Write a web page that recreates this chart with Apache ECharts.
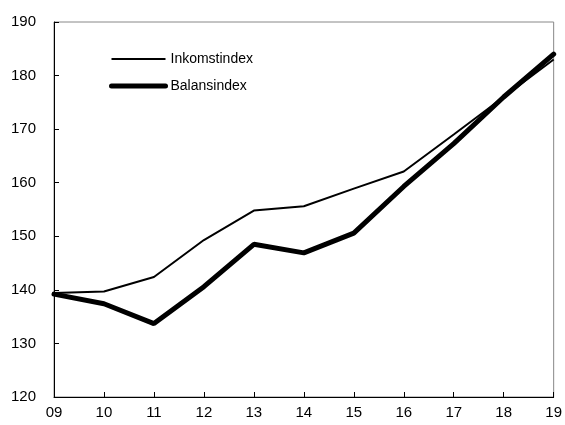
<!DOCTYPE html>
<html><head><meta charset="utf-8">
<script src="https://cdn.jsdelivr.net/npm/echarts@6/dist/echarts.min.js"></script>
<style>html,body{margin:0;padding:0;background:#fff}#c{width:565px;height:425px}</style>
</head><body><div id="c"></div>
<script>
const categories = ['09','10','11','12','13','14','15','16','17','18','19'];
const inkomstindex = [139.4, 139.7, 142.4, 149.3, 154.8, 155.6, 158.9, 162.1, 169.0, 176.0, 183.0];
const balansindex = [139.2, 137.4, 133.7, 140.6, 148.5, 146.9, 150.6, 159.3, 167.3, 176.0, 184.0];
const seriesNames = ['Inkomstindex', 'Balansindex'];
const FONT = '"Liberation Sans", Arial, sans-serif';

const chart = echarts.init(document.getElementById('c'), null, {renderer: 'canvas'});
chart.setOption({
  animation: false,
  backgroundColor: '#fff',
  grid: {left: 54, top: 22, right: 10, bottom: 28, show: true, borderColor: '#888', borderWidth: 1, containLabel: false},
  legend: {
    orient: 'vertical', left: 104, top: 47, itemWidth: 54, itemHeight: 14, itemGap: 13,
    itemStyle: {opacity: 0},
    textStyle: {fontFamily: FONT, fontSize: 14, color: '#000'},
    data: [
      {name: seriesNames[0], lineStyle: {width: 2, color: '#000'}},
      {name: seriesNames[1], lineStyle: {width: 5, color: '#000', cap: 'round'}}
    ]
  },
  xAxis: {
    type: 'category', data: categories, boundaryGap: false,
    axisLine: {onZero: false, lineStyle: {color: '#000', width: 1}},
    axisTick: {inside: true, length: 5, lineStyle: {color: '#000'}},
    axisLabel: {fontFamily: FONT, fontSize: 15, color: '#000', margin: 8},
    splitLine: {show: false}
  },
  yAxis: {
    type: 'value', min: 120, max: 190, interval: 10,
    axisLine: {show: true, lineStyle: {color: '#000', width: 1}},
    axisTick: {show: true, inside: true, length: 5, lineStyle: {color: '#000'}},
    axisLabel: {fontFamily: FONT, fontSize: 15, color: '#000', margin: 18},
    splitLine: {show: false}
  },
  series: [
    {name: seriesNames[0], type: 'line', data: inkomstindex, symbol: 'none', showSymbol: false,
     lineStyle: {color: '#000', width: 2}, itemStyle: {color: '#000'}},
    {name: seriesNames[1], type: 'line', data: balansindex, symbol: 'none', showSymbol: false,
     lineStyle: {color: '#000', width: 5, cap: 'round'}, itemStyle: {color: '#000'}}
  ]
});
</script></body></html>
